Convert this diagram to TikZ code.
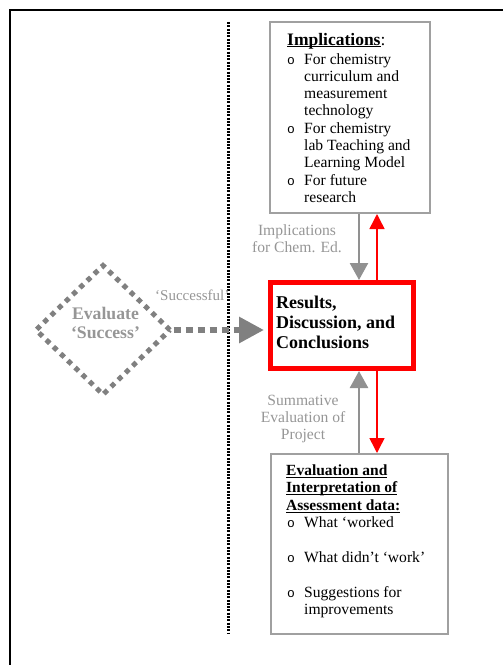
\documentclass[tikz,border=0pt]{standalone}
\usepackage{fontspec}
\setmainfont{Liberation Serif}
\newfontfamily\bulletfont{Liberation Mono}
\usetikzlibrary{arrows.meta,shapes.geometric}

\definecolor{boxgray}{RGB}{160,160,160}
\definecolor{labelgray}{RGB}{150,150,150}
\definecolor{arrowgray}{RGB}{145,145,145}
\definecolor{dotgray}{RGB}{128,128,128}

% underline set close under the baseline, as a word processor does
\newcommand\ulword[1]{\setbox0\hbox{#1}\rlap{\rule[-2.3pt]{\wd0}{0.9pt}}\box0}
% hollow list bullet
\newcommand\bul{{\bulletfont\fontsize{13}{13}\selectfont o}}

\begin{document}
\begin{tikzpicture}[x=1pt,y=-1pt,
  graybox/.style={draw=boxgray,line width=2pt,inner sep=0pt},
  txt/.style={inner sep=0pt,anchor=base west},
  body/.style={font=\fontsize{15.6}{17.3}\selectfont},
  glabel/.style={inner sep=0pt,anchor=base,text=labelgray,font=\fontsize{15.6}{17.4}\selectfont},
  grayarrow/.style={draw=arrowgray,line width=2.5pt,-{Triangle[length=17pt,width=18pt]}},
  redarrow/.style={draw=red,line width=1.5pt,-{Triangle[length=15pt,width=15pt]}}]
\useasboundingbox (0,0) rectangle (503,665);

% frame and separator
\draw[line width=1.7pt] (10,665) -- (10,10) -- (503,10);
\draw[line width=3pt,dash pattern=on 2pt off 1.3pt] (228,22) -- (228,634);

% boxes
\node[graybox,minimum width=160pt,minimum height=191pt] (impl) at (350,117.5) {};
\node[graybox,minimum width=177pt,minimum height=180pt] (eval) at (359.5,544) {};
\node[draw=red,line width=5pt,inner sep=0pt,minimum width=143pt,minimum height=86pt] (res) at (342,325.5) {};
\node[diamond,draw=dotgray,line width=5pt,dash pattern=on 5pt off 5pt,inner sep=0pt,
      minimum width=136pt,minimum height=131pt] (dia) at (103,330) {};

% column positions of the vertical connectors
\coordinate (gx) at (359,0);
\coordinate (rx) at (377,0);

% connectors
\draw[grayarrow] (impl.south -| gx) -- (res.north -| gx);
\draw[redarrow] (res.north -| rx) -- (impl.south -| rx);
\draw[grayarrow] (eval.north -| gx) -- (res.south -| gx);
\draw[redarrow] (res.south -| rx) -- (eval.north -| rx);
\draw[draw=dotgray,line width=6pt,dash pattern=on 7pt off 5pt,shorten >=4pt,
      -{Triangle[length=25pt,width=25pt]}] (dia.east) -- (res.west |- dia.east);

% box texts
\node[txt,font=\fontsize{17.5}{19}\selectfont\bfseries] (implhead) at (287,45) {\ulword{Implications}\mdseries:};
\node[txt,body] (impllist) at (287,64) {\begin{tabular}[t]{@{}p{17pt}@{}l@{}}
\bul & For chemistry\\
     & curriculum and\\
     & measurement\\
     & technology\\
\bul & For chemistry\\
     & lab Teaching and\\
     & Learning Model\\
\bul & For future\\
     & research
\end{tabular}};

\node[txt,font=\fontsize{18}{20}\selectfont\bfseries] (restext) at (276,308) {\begin{tabular}[t]{@{}l@{}}
Results,\\ Discussion, and\\ Conclusions
\end{tabular}};

\node[txt,font=\fontsize{15.5}{17.4}\selectfont\bfseries] (evalhead) at (286,475.5) {\begin{tabular}[t]{@{}l@{}}
\ulword{Evaluation and}\\ \ulword{Interpretation of}\\ \ulword{Assessment data:}
\end{tabular}};
\node[txt,font=\fontsize{15.6}{17.4}\selectfont] (evallist) at (287,527.7) {\begin{tabular}[t]{@{}p{17pt}@{}l@{}}
\bul & What ‘worked\\
     & \\
\bul & What didn’t ‘work’\\
     & \\
\bul & Suggestions for\\
     & improvements
\end{tabular}};

% diamond text and connector labels
\node[inner sep=0pt,anchor=base,text=labelgray,font=\fontsize{17.7}{19}\selectfont\bfseries] (diatext) at (105.5,319)
  {\begin{tabular}[t]{@{}c@{}}Evaluate\\ ‘Success’\end{tabular}};
\node[txt,text=labelgray,font=\fontsize{15}{17}\selectfont] (succ) at (155,300) {‘Successful’};
\node[glabel] (impllabel) at (297,235) {\begin{tabular}[t]{@{}c@{}}Implications\\ for Chem. Ed.\end{tabular}};
\node[glabel] (sumlabel) at (303,405) {\begin{tabular}[t]{@{}c@{}}Summative\\ Evaluation of\\ Project\end{tabular}};
\end{tikzpicture}
\end{document}
